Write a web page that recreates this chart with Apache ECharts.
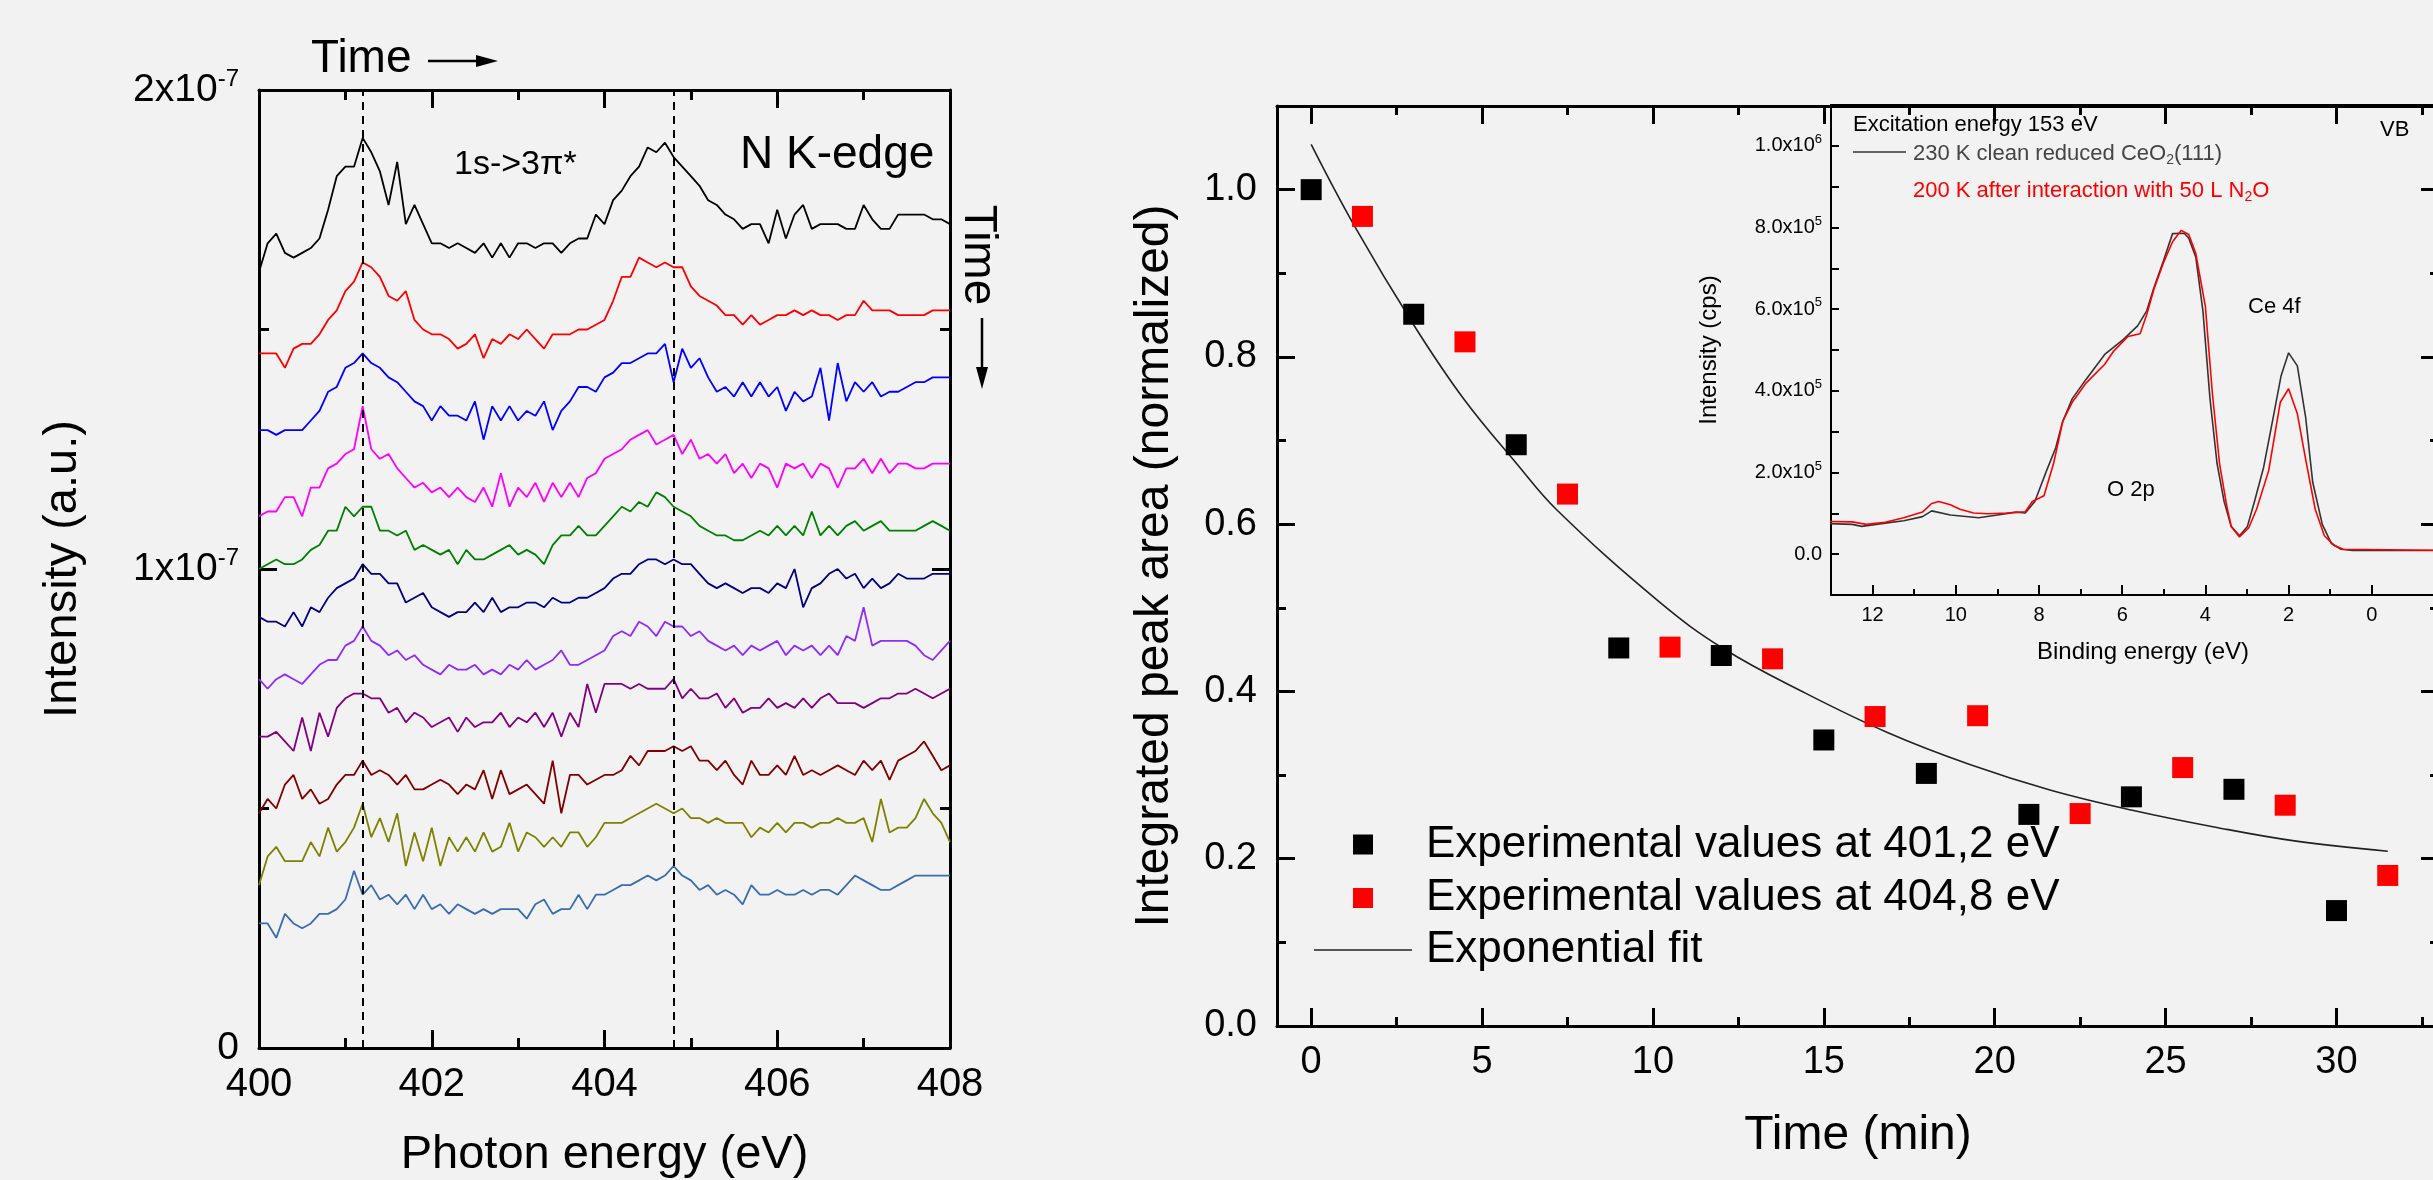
<!DOCTYPE html>
<html><head><meta charset="utf-8">
<script src="https://cdn.jsdelivr.net/npm/echarts@6/dist/echarts.min.js"></script>
<style>html,body{margin:0;padding:0;background:#f2f2f2;}#c{width:2433px;height:1180px;}</style>
</head><body><div id="c"></div>
<script>
const FONT = "'Liberation Sans', Arial, Helvetica, sans-serif";

// ---------- Left panel: N K-edge NEXAFS spectra (intensity in units of 1e-9) ----------
const energies = [400,400.1,400.2,400.3,400.4,400.5,400.6,400.7,400.8,400.9,401,401.1,401.2,401.3,401.4,401.5,401.6,401.7,401.8,401.9,402,402.1,402.2,402.3,402.4,402.5,402.6,402.7,402.8,402.9,403,403.1,403.2,403.3,403.4,403.5,403.6,403.7,403.8,403.9,404,404.1,404.2,404.3,404.4,404.5,404.6,404.7,404.8,404.9,405,405.1,405.2,405.3,405.4,405.5,405.6,405.7,405.8,405.9,406,406.1,406.2,406.3,406.4,406.5,406.6,406.7,406.8,406.9,407,407.1,407.2,407.3,407.4,407.5,407.6,407.7,407.8,407.9,408];
const traceBlack = [162,168,170,166,165,166,167,169,175,182,184,184,190,187,183,176,185,172,176,172,168,168,167,168,167,166,168,165,168,165,168,168,167,168,168,166,168,169,169,174,172,177,179,182,184,188,187,189,186,184,182,180,177,176,174,173,171,172,172,168,175,169,174,176,171,172,172,172,171,171,176,173,171,171,174,174,174,174,173,173,172];
const traceRed = [145,145,145,142,146,147,147,149,152,154,158,160,164,163,161,157,156,158,152,150,149,149,148,146,147,149,144,148,147,149,148,150,148,146,149,149,149,150,150,151,152,156,161,161,165,164,163,164,163,163,159,157,156,155,153,153,151,153,151,152,153,153,154,153,154,153,153,152,153,153,156,154,154,154,153,153,153,153,154,154,154];
const traceBlue = [129,129,128,129,129,129,131,133,137,138,142,143,145,143,142,140,139,137,135,134,131,134,132,132,131,135,127,134,131,134,131,133,132,135,129,133,135,138,138,137,140,141,143,143,144,145,145,147,139,146,142,144,140,137,138,136,139,136,139,136,138,133,137,135,136,142,131,143,135,139,137,139,136,137,137,138,139,139,140,140,140];
const traceMagenta = [111,112,112,115,115,111,117,117,121,122,124,125,134,125,123,124,121,119,117,118,116,117,115,117,115,114,117,113,120,113,117,115,118,114,118,115,118,115,119,120,123,124,125,127,128,129,126,127,128,124,127,123,124,122,124,120,122,119,122,121,117,122,121,122,119,122,121,117,121,121,123,120,123,120,122,122,121,121,122,122,122];
const traceGreen = [100,101,102,101,101,102,104,105,108,108,113,111,113,113,108,108,107,108,104,105,104,103,104,101,104,102,102,103,104,105,103,104,103,101,105,107,107,109,107,107,109,111,113,112,114,113,116,115,113,112,111,109,108,107,107,106,106,107,108,107,109,107,109,107,112,107,109,107,109,110,108,109,110,108,108,108,108,109,110,109,108];
const traceNavy = [90,89,89,88,91,88,92,91,94,96,97,98,101,99,99,97,97,93,94,95,92,91,90,91,91,93,91,94,91,92,92,93,93,92,94,93,93,94,94,95,96,98,99,99,101,102,102,101,102,101,101,99,97,96,97,96,95,96,96,95,97,96,100,92,96,97,99,100,98,99,96,98,96,97,99,98,98,98,99,99,99];
const traceViolet = [77,75,77,78,77,76,78,80,81,81,84,85,88,85,84,82,83,81,82,80,79,78,80,79,79,80,78,79,78,80,79,81,79,80,81,83,80,80,81,82,83,86,87,86,89,88,86,89,88,88,86,87,85,84,83,84,82,84,83,84,85,82,84,83,84,82,84,82,86,85,92,84,85,85,85,85,84,82,81,83,85];
const tracePurple = [65,65,66,64,62,69,62,70,65,71,73,74,74,73,73,70,71,68,70,69,67,68,69,66,69,67,68,68,70,67,69,68,70,67,70,65,70,67,76,70,76,76,76,75,76,75,75,75,77,73,75,73,73,74,71,73,70,71,71,73,71,72,71,73,71,73,74,72,72,72,71,72,73,73,74,74,75,74,73,74,75];
const traceWine = [49,52,50,55,57,52,54,51,52,55,57,57,60,57,58,57,55,57,54,54,55,56,55,53,55,54,58,52,58,53,54,55,53,51,60,49,57,57,55,56,57,57,58,61,59,62,62,62,63,62,63,60,60,58,60,57,55,60,57,57,59,57,61,57,58,57,58,59,58,57,60,58,60,56,60,61,62,64,61,58,59];
const traceOlive = [34,40,42,39,39,39,43,40,46,41,43,46,51,44,48,43,49,38,45,39,46,38,44,41,44,41,45,41,42,47,41,45,44,42,44,42,45,45,42,44,47,47,47,48,49,50,51,50,49,50,48,48,47,48,47,47,47,44,46,45,47,45,47,47,46,47,47,48,47,47,48,43,52,45,46,46,48,52,49,47,43];
const traceSteel = [26,26,23,28,26,25,26,28,28,29,31,37,32,34,31,32,30,32,29,32,29,30,28,30,29,28,29,28,29,29,29,27,30,31,28,29,29,32,29,32,32,33,34,34,35,36,35,36,38,36,35,33,34,32,33,32,30,34,32,32,33,32,32,33,32,33,33,32,34,36,35,34,33,33,34,35,36,36,36,36,36];
const leftYTicks = [0, 100, 200];
const peakEnergies = [401.2, 404.8];

// ---------- Right panel: integrated peak area vs time ----------
const timeBlack = [0,3,6,9,12,15,18,21,24,27,30];
const areaBlack = [1.0,0.851,0.695,0.452,0.443,0.342,0.302,0.253,0.274,0.283,0.138];
const timeRed = [1.5,4.5,7.5,10.5,13.5,16.5,19.5,22.5,25.5,28.5,31.5];
const areaRed = [0.968,0.818,0.636,0.453,0.439,0.370,0.371,0.254,0.309,0.264,0.180];
const fitTime = [0,1.26,3.02,4.46,6.02,7.19,10.16,12.07,14.46,16.86,19.25,21.64,24.03,26.42,28.82,31.5];
const fitArea = [1.054,0.957,0.837,0.750,0.672,0.617,0.508,0.451,0.398,0.351,0.313,0.282,0.258,0.238,0.221,0.209];
const timeMajorTicks = [0,5,10,15,20,25,30];
const timeMinorTicks = [2.5,7.5,12.5,17.5,22.5,27.5,32.5];
const areaMajorTicks = [0,0.2,0.4,0.6,0.8,1.0];
const areaMinorTicks = [0.1,0.3,0.5,0.7,0.9];

// ---------- Inset: valence band spectra (binding energy eV, intensity cps) ----------
const beClean = [13.05,12.49,12.26,11.7,11.25,10.8,10.58,10.13,9.45,9.0,8.55,8.33,8.1,7.82,7.6,7.43,7.2,6.87,6.42,5.97,5.63,5.41,5.24,5.01,4.79,4.51,4.4,4.23,4.06,3.89,3.72,3.55,3.38,3.18,2.99,2.82,2.6,2.37,2.18,2.0,1.79,1.59,1.42,1.19,0.97,0.74,0.46,-2.0];
const cpsClean = [75000,73000,68000,76000,82000,92000,106000,96000,89000,96000,103000,101000,129000,204000,260000,325000,381000,428000,489000,526000,559000,596000,652000,718000,785000,786000,774000,727000,596000,381000,222000,129000,68000,45000,68000,129000,213000,335000,437000,493000,461000,335000,176000,73000,26000,12000,9000,9000];
const beN2O = [13.05,12.49,12.15,11.7,11.25,10.8,10.58,10.41,10.13,9.9,9.57,9.23,8.78,8.33,8.16,7.88,7.65,7.43,7.2,6.87,6.42,6.2,5.86,5.57,5.41,5.24,5.01,4.79,4.58,4.4,4.23,4.0,3.83,3.66,3.49,3.38,3.18,2.96,2.77,2.48,2.2,2.0,1.79,1.59,1.36,1.14,0.91,0.69,-2.0];
const cpsN2O = [80000,79000,73000,78000,89000,103000,124000,129000,121000,110000,101000,99000,101000,104000,129000,143000,222000,325000,372000,419000,465000,498000,533000,540000,587000,648000,713000,765000,793000,783000,736000,606000,391000,222000,120000,68000,42000,64000,110000,204000,372000,405000,344000,232000,110000,45000,22000,12000,9000];
const beMajorTicks = [0,2,4,6,8,10,12];
const beMinorTicks = [1,3,5,7,9,11];

// ---------- Build ----------
const traces = [
  [traceBlack,'#000000'],[traceRed,'#ff0000'],[traceBlue,'#0000ff'],[traceMagenta,'#ff00ff'],
  [traceGreen,'#008000'],[traceNavy,'#000080'],[traceViolet,'#8f2bff'],[tracePurple,'#800080'],
  [traceWine,'#800000'],[traceOlive,'#808000'],[traceSteel,'#3a6db0']
];
const zip = (xs, ys) => xs.map((x, i) => [x, ys[i]]);

function axisBase(extra) {
  return Object.assign({
    type: 'value', splitLine: {show: false}, minorSplitLine: {show: false},
    axisLine: {show: true, onZero: false, lineStyle: {color: '#000', width: 3}},
    axisTick: {show: true, inside: true, length: 18, lineStyle: {color: '#000', width: 3}},
    axisLabel: {show: false, color: '#000', fontFamily: FONT},
    nameTextStyle: {color: '#000', fontFamily: FONT},
    nameMoveOverlap: false
  }, extra);
}

const xAxes = [
  // left panel (grid 0)
  axisBase({gridIndex: 0, position: 'bottom', min: 400, max: 408, interval: 2,
    minorTick: {show: true, splitNumber: 2, length: 10, lineStyle: {color: '#000', width: 3}},
    axisLabel: {show: true, fontSize: 40, margin: 17, color: '#000', fontFamily: FONT},
    name: 'Photon energy (eV)', nameLocation: 'middle', nameGap: 84,
    nameTextStyle: {fontSize: 47, color: '#000', fontFamily: FONT}}),
  axisBase({gridIndex: 0, position: 'top', min: 400, max: 408, interval: 2,
    minorTick: {show: true, splitNumber: 2, length: 10, lineStyle: {color: '#000', width: 3}}}),
  // main right panel (grid 1)
  axisBase({gridIndex: 1, position: 'bottom', min: -1, max: 33,
    axisTick: {show: true, inside: true, length: 18, customValues: timeMajorTicks, lineStyle: {color: '#000', width: 3}},
    axisLabel: {show: true, fontSize: 38, margin: 18, color: '#000', fontFamily: FONT, customValues: timeMajorTicks},
    name: 'Time (min)', nameLocation: 'middle', nameGap: 86,
    nameTextStyle: {fontSize: 48, color: '#000', fontFamily: FONT}}),
  axisBase({gridIndex: 1, position: 'bottom', min: -1, max: 33, axisLine: {show: false, onZero: false},
    axisTick: {show: true, inside: true, length: 9, customValues: timeMinorTicks, lineStyle: {color: '#000', width: 3}}}),
  axisBase({gridIndex: 1, position: 'top', min: -1, max: 33,
    axisTick: {show: true, inside: true, length: 18, customValues: timeMajorTicks, lineStyle: {color: '#000', width: 3}}}),
  axisBase({gridIndex: 1, position: 'top', min: -1, max: 33, axisLine: {show: false, onZero: false},
    axisTick: {show: true, inside: true, length: 9, customValues: timeMinorTicks, lineStyle: {color: '#000', width: 3}}}),
  // inset (grid 2)
  axisBase({gridIndex: 2, position: 'bottom', min: -2, max: 13, inverse: true,
    axisLine: {show: true, onZero: false, lineStyle: {color: '#000', width: 2}},
    axisTick: {show: true, inside: true, length: 10, customValues: beMajorTicks, lineStyle: {color: '#000', width: 2}},
    axisLabel: {show: true, fontSize: 20, margin: 10, color: '#000', fontFamily: FONT, customValues: beMajorTicks},
    name: 'Binding energy (eV)', nameLocation: 'middle', nameGap: 45,
    nameTextStyle: {fontSize: 24, color: '#000', fontFamily: FONT}}),
  axisBase({gridIndex: 2, position: 'bottom', min: -2, max: 13, inverse: true, axisLine: {show: false, onZero: false},
    axisTick: {show: true, inside: true, length: 6, customValues: beMinorTicks, lineStyle: {color: '#000', width: 2}}})
];

const supRich = {
  a: {fontSize: 39, lineHeight: 46, color: '#000', fontFamily: FONT},
  b: {fontSize: 24, lineHeight: 22, verticalAlign: 'top', color: '#000', fontFamily: FONT}
};
const insetRich = {
  a: {fontSize: 20, lineHeight: 26, color: '#000', fontFamily: FONT},
  b: {fontSize: 13, lineHeight: 13, verticalAlign: 'top', color: '#000', fontFamily: FONT}
};

const yAxes = [
  axisBase({gridIndex: 0, position: 'left', min: 0, max: 200, interval: 100,
    minorTick: {show: true, splitNumber: 2, length: 10, lineStyle: {color: '#000', width: 3}},
    axisLabel: {show: true, margin: 20, color: '#000', fontFamily: FONT, rich: supRich,
      formatter: v => leftYTicks.indexOf(v) < 0 ? '' : (v === 0 ? '{a|0}' : '{a|' + (v / 100) + 'x10}{b|-7}')},
    name: 'Intensity (a.u.)', nameLocation: 'middle', nameGap: 172,
    nameTextStyle: {fontSize: 47, color: '#000', fontFamily: FONT}}),
  axisBase({gridIndex: 0, position: 'right', min: 0, max: 200, interval: 100,
    minorTick: {show: true, splitNumber: 2, length: 10, lineStyle: {color: '#000', width: 3}}}),
  axisBase({gridIndex: 1, position: 'left', min: 0, max: 1.1,
    axisTick: {show: true, inside: true, length: 18, customValues: areaMajorTicks, lineStyle: {color: '#000', width: 3}},
    axisLabel: {show: true, fontSize: 38, margin: 20, color: '#000', fontFamily: FONT, customValues: areaMajorTicks,
      formatter: v => Number(v).toFixed(1)},
    name: 'Integrated peak area (normalized)', nameLocation: 'middle', nameGap: 98,
    nameTextStyle: {fontSize: 48, color: '#000', fontFamily: FONT}}),
  axisBase({gridIndex: 1, position: 'left', min: 0, max: 1.1, axisLine: {show: false, onZero: false},
    axisTick: {show: true, inside: true, length: 9, customValues: areaMinorTicks, lineStyle: {color: '#000', width: 3}}}),
  axisBase({gridIndex: 1, position: 'right', min: 0, max: 1.1,
    axisTick: {show: true, inside: true, length: 18, customValues: areaMajorTicks, lineStyle: {color: '#000', width: 3}}}),
  axisBase({gridIndex: 1, position: 'right', min: 0, max: 1.1, axisLine: {show: false, onZero: false},
    axisTick: {show: true, inside: true, length: 9, customValues: areaMinorTicks, lineStyle: {color: '#000', width: 3}}}),
  axisBase({gridIndex: 2, position: 'left', min: -100000, max: 1100000, interval: 100000,
    axisLine: {show: true, onZero: false, lineStyle: {color: '#000', width: 2}},
    axisTick: {show: true, inside: true, length: 8, lineStyle: {color: '#000', width: 2}},
    axisLabel: {show: true, margin: 9, color: '#000', fontFamily: FONT, rich: insetRich,
      formatter: v => {
        const k = Math.round(v / 100000);
        if (k < 0 || k % 2 !== 0) return '';
        if (k === 0) return '{a|0.0}';
        if (k === 10) return '{a|1.0x10}{b|6}';
        return '{a|' + k.toFixed(1) + 'x10}{b|5}';
      }},
    name: 'Intensity (cps)', nameLocation: 'middle', nameGap: 110,
    nameTextStyle: {fontSize: 24, color: '#000', fontFamily: FONT}})
];

const series = traces.map(([d, c], i) => {
  const s = {
    type: 'line', xAxisIndex: 0, yAxisIndex: 0, data: zip(energies, d),
    showSymbol: false, symbol: 'none', lineStyle: {color: c, width: 1.8}, itemStyle: {color: c},
    silent: true, animation: false, z: 3
  };
  if (i === 0) {
    s.markLine = {
      silent: true, symbol: ['none', 'none'], label: {show: false},
      lineStyle: {color: '#000', width: 2, type: [8, 6]},
      data: peakEnergies.map(e => ({xAxis: e}))
    };
  }
  return s;
});
series.push(
  {type: 'line', name: 'Exponential fit', xAxisIndex: 2, yAxisIndex: 2, data: zip(fitTime, fitArea),
   smooth: 0.4, showSymbol: false, symbol: 'none', lineStyle: {color: '#222', width: 1.6}, silent: true, animation: false, z: 3},
  {type: 'scatter', name: 'Experimental values at 401,2 eV', xAxisIndex: 2, yAxisIndex: 2, data: zip(timeBlack, areaBlack),
   symbol: 'rect', symbolSize: 21, itemStyle: {color: '#000', opacity: 1}, silent: true, animation: false, z: 4},
  {type: 'scatter', name: 'Experimental values at 404,8 eV', xAxisIndex: 2, yAxisIndex: 2, data: zip(timeRed, areaRed),
   symbol: 'rect', symbolSize: 21, itemStyle: {color: '#ff0000', opacity: 1}, silent: true, animation: false, z: 4},
  {type: 'line', name: '230 K clean reduced CeO2(111)', xAxisIndex: 6, yAxisIndex: 6, data: zip(beClean, cpsClean),
   showSymbol: false, symbol: 'none', lineStyle: {color: '#333', width: 1.6}, silent: true, animation: false, z: 3},
  {type: 'line', name: '200 K after interaction with 50 L N2O', xAxisIndex: 6, yAxisIndex: 6, data: zip(beN2O, cpsN2O),
   showSymbol: false, symbol: 'none', lineStyle: {color: '#ff0000', width: 1.6}, silent: true, animation: false, z: 3}
);

function txt(x, y, text, size, opts) {
  return Object.assign({
    type: 'text', x: x, y: y, silent: true, z: 10,
    style: Object.assign({text: text, fontSize: size, fontFamily: FONT, fill: '#000',
      align: 'left', textAlign: 'left', verticalAlign: 'middle', textVerticalAlign: 'middle'}, (opts && opts.style) || {})
  }, (opts && opts.el) || {});
}

const graphics = [
  // left panel annotations
  txt(311, 59, 'Time', 46),
  {type: 'line', silent: true, shape: {x1: 428, y1: 61, x2: 485, y2: 61}, style: {stroke: '#000', lineWidth: 2.5}},
  {type: 'polygon', silent: true, shape: {points: [[498, 61], [476, 55], [476, 67]]}, style: {fill: '#000'}},
  txt(740, 155, 'N K-edge', 46),
  txt(454, 165, '1s->3\u03c0*', 34),
  txt(978, 255, 'Time', 46, {el: {rotation: -Math.PI / 2},
    style: {align: 'center', textAlign: 'center'}}),
  {type: 'line', silent: true, shape: {x1: 982, y1: 318, x2: 982, y2: 376}, style: {stroke: '#000', lineWidth: 2.5}},
  {type: 'polygon', silent: true, shape: {points: [[982, 389], [976, 367], [988, 367]]}, style: {fill: '#000'}},
  // main legend
  {type: 'rect', silent: true, shape: {x: 1353, y: 834.5, width: 20, height: 20}, style: {fill: '#000'}},
  {type: 'rect', silent: true, shape: {x: 1353, y: 888, width: 20, height: 20}, style: {fill: '#ff0000'}},
  {type: 'line', silent: true, shape: {x1: 1314, y1: 950, x2: 1412, y2: 950}, style: {stroke: '#222', lineWidth: 1.6}},
  txt(1426, 845, 'Experimental values at 401,2 eV', 44),
  txt(1426, 898, 'Experimental values at 404,8 eV', 44),
  txt(1426, 950, 'Exponential fit', 44),
  // inset annotations
  txt(1853, 125, 'Excitation energy 153 eV', 22),
  {type: 'line', silent: true, shape: {x1: 1853, y1: 152, x2: 1906, y2: 152}, style: {stroke: '#333', lineWidth: 1.6}},
  {type: 'text', x: 1913, y: 154, silent: true, z: 10, style: {
    text: '{t|230 K clean reduced CeO}{s|2}{t|(111)}', align: 'left', verticalAlign: 'middle',
    textAlign: 'left', textVerticalAlign: 'middle',
    rich: {t: {fontSize: 22, lineHeight: 26, fontFamily: FONT, fill: '#444', color: '#444'},
           s: {fontSize: 14, lineHeight: 12, verticalAlign: 'bottom', fontFamily: FONT, fill: '#444', color: '#444'}}}},
  {type: 'text', x: 1913, y: 191, silent: true, z: 10, style: {
    text: '{t|200 K after interaction with 50 L N}{s|2}{t|O}', align: 'left', verticalAlign: 'middle',
    textAlign: 'left', textVerticalAlign: 'middle',
    rich: {t: {fontSize: 22, lineHeight: 26, fontFamily: FONT, fill: '#ff0000', color: '#ff0000'},
           s: {fontSize: 14, lineHeight: 12, verticalAlign: 'bottom', fontFamily: FONT, fill: '#ff0000', color: '#ff0000'}}}},
  txt(2380, 130, 'VB', 22),
  txt(2248, 307, 'Ce 4f', 22),
  txt(2107, 490, 'O 2p', 22)
];

const chart = echarts.init(document.getElementById('c'), null, {renderer: 'canvas', width: 2433, height: 1180});
chart.setOption({
  backgroundColor: '#f2f2f2',
  animation: false,
  textStyle: {fontFamily: FONT},
  grid: [
    {left: 259, top: 90, width: 691, height: 958, containLabel: false, outerBoundsMode: 'none'},
    {left: 1277, top: 106, width: 1162, height: 920, containLabel: false, outerBoundsMode: 'none'},
    {left: 1831, top: 105, width: 624, height: 490, containLabel: false, outerBoundsMode: 'none',
     show: true, borderColor: '#000', borderWidth: 2, backgroundColor: 'transparent'}
  ],
  xAxis: xAxes,
  yAxis: yAxes,
  series: series,
  graphic: graphics
});
</script>
</body></html>
